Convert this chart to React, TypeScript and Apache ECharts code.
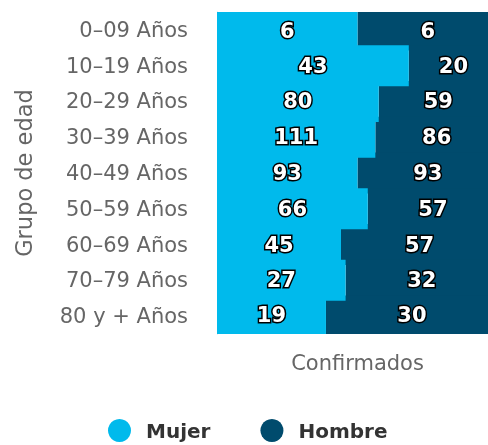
import React, { useEffect, useRef } from "react";
import * as echarts from "echarts";

const categories = [
  "0–09 Años",
  "10–19 Años",
  "20–29 Años",
  "30–39 Años",
  "40–49 Años",
  "50–59 Años",
  "60–69 Años",
  "70–79 Años",
  "80 y + Años",
];
const mujer = [6, 43, 80, 111, 93, 66, 45, 27, 19];
const hombre = [6, 20, 59, 86, 93, 57, 57, 32, 30];

const FONT = "'DejaVu Sans', Verdana, sans-serif";

export default function App() {
  const ref = useRef<HTMLDivElement>(null);
  useEffect(() => {
    if (!ref.current) return;
    const chart = echarts.init(ref.current, undefined, { renderer: "svg" });
    const pct = (arr: number[], other: number[]) =>
      arr.map((v, i) => ({ value: (v / (v + other[i])) * 100, raw: v }));
    const labelStyle = {
      show: true,
      position: "inside",
      color: "#fff",
      fontWeight: "bold",
      fontSize: 21,
      fontFamily: FONT,
      textBorderColor: "#000",
      textBorderWidth: 3,
      formatter: (p: any) => String(p.data.raw),
    };
    chart.setOption({
      animation: false,
      textStyle: { fontFamily: FONT },
      grid: {
        left: 217,
        right: -10,
        top: 12,
        bottom: 111,
        containLabel: false,
        outerBoundsMode: "none",
      },
      legend: {
        data: ["Mujer", "Hombre"],
        bottom: -2,
        left: 103,
        icon: "circle",
        itemWidth: 23,
        itemHeight: 23,
        itemGap: 50,
        textStyle: {
          fontSize: 20,
          fontWeight: "bold",
          color: "#333",
          fontFamily: FONT,
          padding: [0, 0, 0, 10],
        },
      },
      xAxis: {
        type: "value",
        min: 0,
        max: 100,
        axisLabel: { show: false },
        axisLine: { show: false },
        axisTick: { show: false },
        splitLine: { show: false },
        name: "Confirmados",
        nameLocation: "middle",
        nameGap: 18,
        nameTextStyle: { fontSize: 21, color: "#666", fontFamily: FONT },
      },
      yAxis: {
        type: "category",
        inverse: true,
        data: categories,
        axisLine: { show: true, lineStyle: { color: "#d9d9d9", width: 1 } },
        axisTick: { show: false },
        axisLabel: {
          color: "#666",
          fontSize: 21,
          margin: 29,
          fontFamily: FONT,
        },
        name: "Grupo de edad",
        nameLocation: "middle",
        nameRotate: 90,
        nameGap: 182,
        nameTextStyle: { fontSize: 22.5, color: "#666", fontFamily: FONT },
      },
      series: [
        {
          name: "Mujer",
          type: "bar",
          stack: "total",
          barWidth: 41,
          z: 3,
          itemStyle: { color: "#00BAEC" },
          label: labelStyle,
          data: pct(mujer, hombre),
        },
        {
          name: "Hombre",
          type: "bar",
          stack: "total",
          barWidth: 41,
          z: 2,
          itemStyle: { color: "#004B6D" },
          label: labelStyle,
          data: pct(hombre, mujer),
        },
      ],
    });
    return () => chart.dispose();
  }, []);
  return (
    <div
      ref={ref}
      style={{ position: "fixed", left: 0, top: 0, width: 488, height: 445 }}
    />
  );
}
